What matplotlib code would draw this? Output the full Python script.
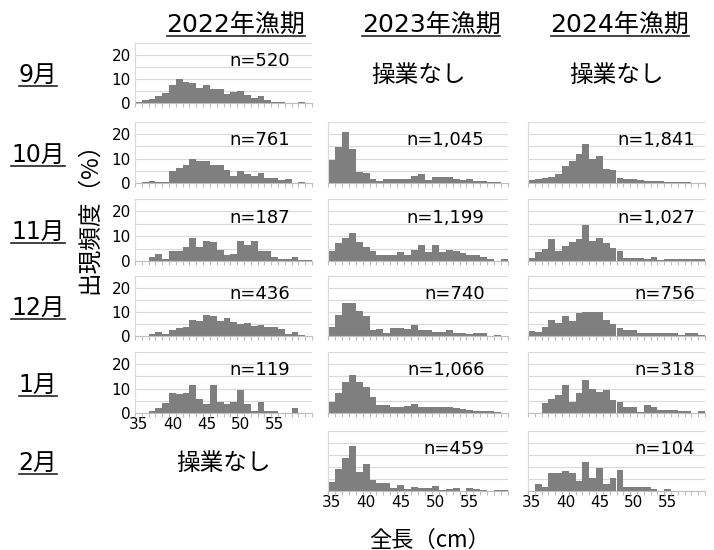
import matplotlib.pyplot as plt
from matplotlib.lines import Line2D
import numpy as np

plt.rcParams['font.family'] = ['DejaVu Sans', 'Noto Sans CJK JP']

# body length classes (cm), one bar per class
lengths = list(range(35, 61))
xtick_vals = [35, 40, 45, 50, 55]

seasons = ['2022年漁期', '2023年漁期', '2024年漁期']
months = ['9月', '10月', '11月', '12月', '1月', '2月']

# frequency (%) per length class
f2022_sep = [0.6, 1.4, 1.7, 2.8, 4.2, 7.4, 9.9, 8.8, 8.4, 6.2, 7.4, 5.9, 5.9, 3.9, 4.6, 4.9, 3.4, 2.1, 2.8, 1.1, 0.6, 0.4, 0, 0, 0.6, 0]
f2022_oct = [0, 0.3, 0.8, 0.3, 0.3, 5, 6, 7.3, 10, 9, 9, 7.3, 7.3, 5.5, 3, 5, 3.8, 2.7, 4.3, 2.2, 2, 1.3, 1.7, 0, 0.3, 0]
f2022_nov = [0, 0, 1.5, 2.7, 1, 4, 4, 5.5, 9.2, 5.6, 8.2, 7.5, 4.6, 2.4, 2.8, 8.2, 6.3, 8.2, 4, 4, 1.5, 0.7, 0.7, 1.6, 0.6, 0.6]
f2022_dec = [0, 0, 1, 1.8, 1, 2.6, 3.5, 3.6, 6.6, 6.2, 8.8, 8.3, 6.2, 7.3, 5.9, 4.8, 5.3, 4, 4.4, 3.8, 3.6, 2.8, 1, 1.8, 0.5, 0]
f2022_jan = [0, 0, 0.8, 1.9, 4.1, 8.4, 7.7, 8.4, 11.3, 5.9, 3.8, 11.3, 4.7, 3.8, 4.7, 9.4, 3.8, 0.9, 4.7, 0.9, 0.9, 0, 0, 1.9, 0, 0]

f2023_oct = [9.4, 14.9, 20.8, 13.9, 4.4, 4.2, 1.8, 1, 1.8, 1.8, 1.8, 1.8, 2.8, 3.5, 1.1, 2.5, 2.5, 2.3, 1.8, 1.3, 1.5, 1, 0.7, 0.4, 0.3, 0]
f2023_nov = [4.1, 7.1, 9.2, 11.2, 7.8, 5.8, 4, 2.6, 2.6, 2.6, 3.7, 2.3, 4.4, 6.4, 3.7, 6.4, 3.7, 4.4, 4, 3.3, 2.6, 2.3, 1.6, 1, 0, 0.7]
f2023_dec = [3.7, 8.9, 13.7, 13.7, 10.3, 8.2, 2.6, 3, 1.1, 3.2, 3.4, 3, 4.4, 2.5, 2.7, 1.8, 1.8, 2.5, 1.1, 1.4, 0.7, 1.1, 1.1, 0, 0.3, 0]
f2023_jan = [4.7, 8.1, 12.9, 15.6, 12.6, 10.5, 6.4, 3.3, 3.3, 2.3, 2.3, 3, 3.6, 2.3, 2.6, 2.6, 2.6, 2.3, 1.9, 1.6, 1.2, 1, 1, 1, 0.3, 0]
f2023_feb = [3.9, 9.2, 13.9, 18.8, 7.8, 11.1, 4.6, 3.5, 3.2, 1.1, 2.5, 0.7, 1.5, 1.1, 1.1, 2.1, 0.4, 0.7, 1.1, 0, 1.1, 0.8, 0.4, 0, 0.4, 0.4]

f2024_oct = [1.1, 1.5, 2.2, 2.5, 3.5, 7, 9.2, 11.7, 16, 9.7, 11, 5.6, 5.5, 2.1, 1.8, 1.6, 1.4, 1.0, 0.8, 0.7, 0.6, 0.6, 0.5, 0.3, 0.2, 0.1]
f2024_nov = [1.2, 3.7, 4.8, 8.9, 4, 6.2, 7.8, 8.9, 14.4, 8.1, 9.2, 7.1, 5.1, 4.1, 1.4, 1.2, 1.2, 0.7, 1.6, 0.5, 1, 0.7, 0.7, 0.7, 0.7, 1]
f2024_dec = [2, 1.6, 3.7, 6.6, 5.5, 8.2, 6.4, 9.5, 9.9, 9.9, 9.9, 6.6, 4.8, 3.2, 2.5, 2.5, 1.4, 1.4, 1.1, 1.1, 1.4, 1.1, 0.3, 1.1, 1.1, 0.3]
f2024_jan = [0, 0, 4, 5.8, 7.4, 11.6, 4.7, 8.1, 13.6, 9.9, 8.5, 9.5, 5.3, 4.7, 2.3, 2.3, 0.5, 3.4, 2.3, 1.2, 1.2, 1.2, 1, 0.7, 0, 0.7]
f2024_feb = [0, 3, 1.8, 7.6, 7.6, 8.5, 7.6, 4.3, 12.2, 5.3, 9.7, 3, 5.3, 8.6, 1.8, 1.8, 1.8, 1.8, 0.8, 0, 0.8, 0, 0, 0, 0, 0]

# sample sizes (None = no fishing)
n2022 = ['520', '761', '187', '436', '119', None]
n2023 = [None, '1,045', '1,199', '740', '1,066', '459']
n2024 = [None, '1,841', '1,027', '756', '318', '104']

freqs = [
    [f2022_sep, f2022_oct, f2022_nov, f2022_dec, f2022_jan, None],
    [None, f2023_oct, f2023_nov, f2023_dec, f2023_jan, f2023_feb],
    [None, f2024_oct, f2024_nov, f2024_dec, f2024_jan, f2024_feb],
]
ns = [n2022, n2023, n2024]

W, H = 714, 550
fig = plt.figure(figsize=(W / 100, H / 100), dpi=100)

col_x = [(135, 312), (328, 508), (528, 705)]
row_y = [(43, 103), (122, 183), (199, 261), (276, 336), (352, 413), (431, 491)]
n_xpos = [0.875, 0.87, 0.945]
bottom_row = [4, 5, 5]

bar_color = '#7f7f7f'
grid_color = '#d9d9d9'
cjk = ['Noto Sans CJK JP', 'DejaVu Sans']


def px_axes(x0, x1, y0, y1):
    return fig.add_axes([x0 / W, 1 - y1 / H, (x1 - x0) / W, (y1 - y0) / H])


underline = []

for c in range(3):
    x0, x1 = col_x[c]
    for r in range(6):
        y0, y1 = row_y[r]
        vals = freqs[c][r]
        if vals is None:
            fig.text((x0 + x1) / 2 / W, 1 - ((y0 + y1) / 2 + 2) / H, '操業なし',
                     ha='center', va='center', fontsize=17, family=cjk)
            continue
        ax = px_axes(x0, x1, y0, y1)
        ax.bar(lengths, vals, width=1.0, color=bar_color, linewidth=0, zorder=2)
        ax.set_xlim(34.5, 60.5)
        ax.set_ylim(0, 25)
        ax.set_yticks([0, 10, 20])
        ax.set_yticks([5, 15, 25], minor=True)
        ax.grid(axis='y', which='both', color=grid_color, linewidth=0.8, zorder=0)
        ax.set_xticks(xtick_vals)
        ax.set_xticks(np.arange(34.5, 61, 1), minor=True)
        ax.tick_params(axis='x', which='major', length=0, labelsize=11, pad=3)
        ax.tick_params(axis='x', which='minor', length=3, color='#bfbfbf', width=0.8)
        ax.tick_params(axis='y', which='both', length=0, labelsize=11, pad=3)
        if c > 0:
            ax.tick_params(axis='y', labelleft=False)
        if r != bottom_row[c]:
            ax.tick_params(axis='x', labelbottom=False)
        for s in ['top', 'right']:
            ax.spines[s].set_visible(False)
        ax.spines['left'].set_color(grid_color)
        ax.spines['bottom'].set_color('#bfbfbf')
        ax.set_axisbelow(True)
        ax.text(n_xpos[c], 0.7, 'n=' + ns[c][r], transform=ax.transAxes,
                ha='right', va='center', fontsize=13)

# season titles
for c, s in enumerate(seasons):
    cx = [236, 431, 620][c]
    t = fig.text(cx / W, 1 - 25 / H, s, ha='center', va='center', fontsize=18)
    underline.append(t)

# month labels
for r, m in enumerate(months):
    y0, y1 = row_y[r]
    t = fig.text(38 / W, 1 - ((y0 + y1) / 2 + 2) / H, m, ha='center', va='center', fontsize=17)
    underline.append(t)

fig.text(90 / W, 1 - 212 / H, '出現頻度（%）', rotation=90, ha='center', va='center',
         fontsize=17, family=cjk)
fig.text(430 / W, 1 - 540 / H, '全長（cm）', ha='center', va='center', fontsize=16, family=cjk)

fig.canvas.draw()
renderer = fig.canvas.get_renderer()
inv = fig.transFigure.inverted()
for t in underline:
    bb = t.get_window_extent(renderer)
    (ax0, ay0) = inv.transform((bb.x0, bb.y0 + 1))
    (ax1, _) = inv.transform((bb.x1, bb.y0 + 1))
    fig.add_artist(Line2D([ax0, ax1], [ay0, ay0], transform=fig.transFigure,
                          color='#222222', linewidth=1.2))

fig.savefig('out.png', dpi=100, facecolor='white')
